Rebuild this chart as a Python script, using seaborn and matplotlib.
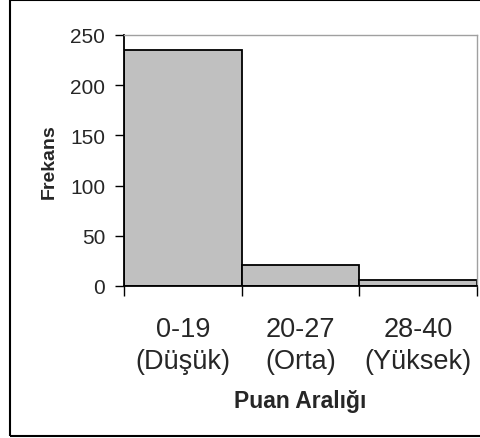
import pandas as pd
import seaborn as sns
import matplotlib.pyplot as plt
from matplotlib.patches import Rectangle

# --- Data ---
score_ranges = ["0-19\n(Düşük)", "20-27\n(Orta)", "28-40\n(Yüksek)"]
frequencies = [235, 21, 6]
y_ticks = [0, 50, 100, 150, 200, 250]

df = pd.DataFrame({"range": score_ranges, "freq": frequencies})

sns.set_style("white")
plt.rcParams["font.family"] = ["Liberation Sans", "DejaVu Sans"]

fig = plt.figure(figsize=(4.8, 4.39), dpi=100)
ax = fig.add_axes([124 / 480, 1 - 287 / 439, (477 - 124) / 480, (287 - 36) / 439])

sns.barplot(data=df, x="range", y="freq", color="#C0C0C0", width=1.0,
            edgecolor="black", linewidth=1.3, saturation=1, ax=ax)

ax.set_xlim(-0.5, len(score_ranges) - 0.5)
ax.set_ylim(0, 250)
ax.set_yticks(y_ticks)
ax.set_yticklabels([str(t) for t in y_ticks], fontsize=15)
ax.tick_params(axis="y", direction="out", length=6.5, width=1, color="black",
               left=True, pad=7)

# category labels centred, tick marks at bin boundaries
ax.tick_params(axis="x", which="major", length=0, labelsize=19.5, pad=21.5)
ax.set_xticks([i - 0.5 for i in range(len(score_ranges) + 1)], minor=True)
ax.tick_params(axis="x", which="minor", direction="out", length=7.5, width=1,
               color="black", bottom=True)
for lbl in ax.get_xticklabels():
    lbl.set_linespacing(1.3)

for side in ["left", "bottom"]:
    ax.spines[side].set_color("black")
    ax.spines[side].set_linewidth(1.3)
for side in ["top", "right"]:
    ax.spines[side].set_color("#A0A0A0")
    ax.spines[side].set_linewidth(1)

ax.set_xlabel("Puan Aralığı", fontsize=16.5, fontweight="bold", labelpad=11)
ax.set_ylabel("Frekans", fontsize=14, fontweight="bold", labelpad=9)

# outer chart border
fig.patches.append(Rectangle((10 / 480, 1 - 437 / 439), 1.0, 436 / 439,
                             transform=fig.transFigure, fill=False,
                             edgecolor="black", linewidth=1.5))

fig.savefig("out.png", dpi=100)
